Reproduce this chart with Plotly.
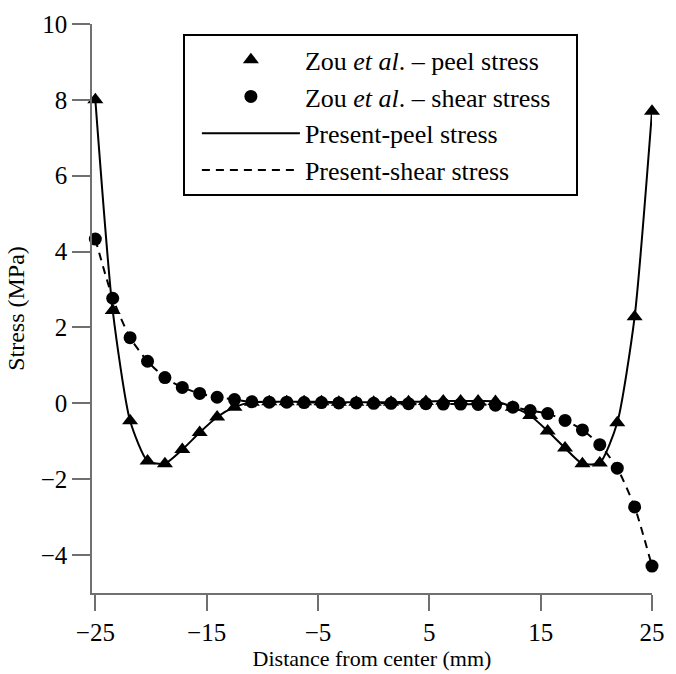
import plotly.graph_objects as go

# Position along the bondline (mm)
distance = [-25, -23.44, -21.88, -20.31, -18.75, -17.19, -15.63, -14.06, -12.5,
            -10.94, -9.38, -7.81, -6.25, -4.69, -3.13, -1.56, 0, 1.56, 3.13,
            4.69, 6.25, 7.81, 9.38, 10.94, 12.5, 14.06, 15.63, 17.19, 18.75,
            20.31, 21.88, 23.44, 25]

# Zou et al. reference results (MPa)
zou_peel = [8.0, 2.45, -0.46, -1.52, -1.59, -1.22, -0.77, -0.36, -0.1, 0.03,
            0.04, 0.04, 0.04, 0.04, 0.03, 0.03, 0.03, 0.03, 0.04, 0.05, 0.06,
            0.06, 0.06, 0.05, -0.1, -0.32, -0.73, -1.18, -1.59, -1.57, -0.51,
            2.28, 7.7]
zou_shear = [4.33, 2.77, 1.73, 1.11, 0.68, 0.42, 0.26, 0.16, 0.1, 0.04, 0.03,
             0.03, 0.02, 0.02, 0.01, 0.01, 0.0, 0.0, -0.01, -0.01, -0.02, -0.02,
             -0.03, -0.05, -0.1, -0.19, -0.27, -0.45, -0.7, -1.09, -1.71, -2.73,
             -4.29]

# Present model results (MPa)
present_peel = list(zou_peel)
present_shear = list(zou_shear)

FONT = "Liberation Serif"
DASH = "8px,6px"
PAD = "&nbsp;" * 3  # extra room on the right side of the legend box

fig = go.Figure()

fig.add_trace(go.Scatter(
    x=distance, y=present_peel, mode="lines", showlegend=False,
    line=dict(color="black", width=2, shape="spline", smoothing=0.6),
    cliponaxis=False, hoverinfo="skip"))
fig.add_trace(go.Scatter(
    x=distance, y=present_shear, mode="lines", showlegend=False,
    line=dict(color="black", width=2, dash=DASH, shape="spline", smoothing=0.6),
    cliponaxis=False, hoverinfo="skip"))

fig.add_trace(go.Scatter(
    x=distance, y=zou_peel, mode="markers", name="Zou <i>et al</i>. – peel stress",
    legendgroup="a", legendrank=1,
    marker=dict(symbol="triangle-up", size=14, color="black"), cliponaxis=False))
fig.add_trace(go.Scatter(
    x=distance, y=zou_shear, mode="markers",
    name="Zou <i>et al</i>. – shear stress" + PAD,
    legendgroup="b", legendrank=2,
    marker=dict(symbol="circle", size=13, color="black"), cliponaxis=False))

# Legend-only entries for the model curves
fig.add_trace(go.Scatter(
    x=[None], y=[None], mode="lines", name="Present-peel stress",
    legendgroup="c", legendrank=3, line=dict(color="black", width=2)))
fig.add_trace(go.Scatter(
    x=[None], y=[None], mode="lines", name="Present-shear stress",
    legendgroup="d", legendrank=4, line=dict(color="black", width=2, dash=DASH)))

axis_common = dict(
    showline=True, linecolor="#707070", linewidth=1.5,
    ticks="outside", tickcolor="#707070", tickwidth=1.5,
    showgrid=False, zeroline=False, ticklabeloverflow="allow",
    tickfont=dict(family=FONT, size=25, color="black"),
)

fig.update_xaxes(range=[-25.3, 25], tickvals=[-25, -15, -5, 5, 15, 25],
                 ticklen=16, title_text="Distance from center (mm)",
                 title_font=dict(family=FONT, size=22, color="black"),
                 title_standoff=0, **axis_common)
fig.update_yaxes(range=[-5, 10], tickvals=[-4, -2, 0, 2, 4, 6, 8, 10],
                 ticklen=18, title_text="Stress (MPa)",
                 title_font=dict(family=FONT, size=24, color="black"),
                 title_standoff=9, **axis_common)

fig.update_layout(
    width=676, height=674,
    margin=dict(l=92, r=11, t=17, b=81),
    plot_bgcolor="white", paper_bgcolor="white",
    font=dict(family=FONT, size=22, color="black"),
    legend=dict(
        x=0.1623, y=0.982, xanchor="left", yanchor="top",
        bordercolor="black", borderwidth=2, bgcolor="white",
        itemwidth=98, indentation=12, tracegroupgap=0,
        font=dict(family=FONT, size=26, color="black"),
    ),
)

fig.write_html("out.html")
